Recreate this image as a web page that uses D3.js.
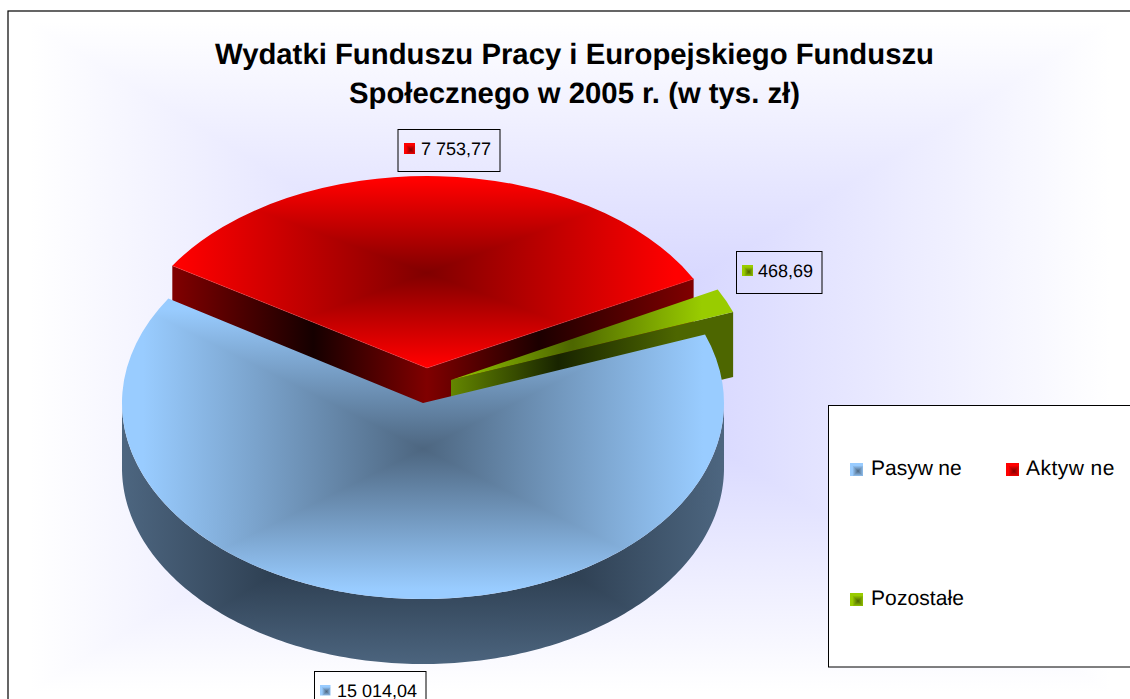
<!DOCTYPE html>
<html><head><meta charset="utf-8">
<script src="https://cdn.jsdelivr.net/npm/d3@7"></script>
<style>html,body{margin:0;padding:0;background:#fff;overflow:hidden}svg{display:block}text{font-family:"Liberation Sans",Arial,sans-serif;fill:#000;text-rendering:geometricPrecision}</style>
</head><body><svg id="c" width="1130" height="699"></svg>
<script>
const categories = ["Pasywne", "Aktywne", "Pozostałe"];
const values = [15014.04, 7753.77, 468.69];
const valueLabels = ["15 014,04", "7 753,77", "468,69"];
const titleLines = ["Wydatki Funduszu Pracy i Europejskiego Funduszu", "Społecznego w 2005 r. (w tys. zł)"];
const edgeColors = ["#99ccff", "#ff0000", "#99cc00"];
const coreColors = ["#4d6680", "#800000", "#4d6600"];

const svg = d3.select("#c");
const defs = svg.append("defs");
const rad = d => d * Math.PI / 180;
let uid = 0;

// rectangular ("from centre") gradient: two linear ramps combined with lighten
function rectFill(parent, clipD, clipTransform, b, core, edge, sharp) {
  const id = "g" + (++uid);
  const clip = defs.append("clipPath").attr("id", id + "c");
  clip.append("path").attr("d", clipD).attr("transform", clipTransform || null);
  const stops = sharp ? [[.15, edge], [.5, core], [.85, edge]] : [[0, edge], [.5, core], [1, edge]];
  const ramp = (name, attrs) => {
    const g = defs.append("linearGradient").attr("id", id + name).attr("gradientUnits", "userSpaceOnUse");
    Object.entries(attrs).forEach(([k, v]) => g.attr(k, v));
    g.selectAll("stop").data(stops).enter().append("stop")
      .attr("offset", d => d[0]).attr("stop-color", d => d[1]);
  };
  ramp("h", {x1: b.cx - b.hw, x2: b.cx + b.hw, y1: 0, y2: 0});
  ramp("v", {x1: 0, x2: 0, y1: b.cy - b.hh, y2: b.cy + b.hh});
  const g = parent.append("g").attr("clip-path", `url(#${id}c)`).style("isolation", "isolate");
  const m = 80;
  const rect = name => g.append("rect").attr("x", b.cx - b.hw - m).attr("y", b.cy - b.hh - m)
    .attr("width", 2 * b.hw + 2 * m).attr("height", 2 * b.hh + 2 * m).attr("fill", `url(#${id}${name})`);
  rect("h");
  rect("v").style("mix-blend-mode", "lighten");
  return g;
}
function hGrad(x1, x2, stops) {
  const id = "g" + (++uid);
  const g = defs.append("linearGradient").attr("id", id).attr("gradientUnits", "userSpaceOnUse")
    .attr("x1", x1).attr("x2", x2).attr("y1", 0).attr("y2", 0);
  g.selectAll("stop").data(stops).enter().append("stop")
    .attr("offset", d => d[0]).attr("stop-color", d => d[1]);
  return `url(#${id})`;
}

// chart area background
const W = 1130, H = 699;
svg.append("rect").attr("width", W).attr("height", H).attr("fill", "#fff");
rectFill(svg, "M8 11H1200V720H8Z", null, {cx: 570, cy: 357, hw: 540, hh: 335}, "#ccccff", "#ffffff");

// pie geometry
const pie = d3.pie().sort(null).startAngle(rad(69.6)).endAngle(rad(69.6 + 360));
const arcs = pie(values);
const arcGen = d3.arc().innerRadius(0).outerRadius(1);
const geo = [
  {cx: 423, cy: 403, rx: 301, ry: 196},
  {cx: 427, cy: 368, rx: 301, ry: 192},
  {cx: 451, cy: 380, rx: 301, ry: 195}
];
const depth = 65;
const pt = (g, a) => [g.cx + g.rx * Math.sin(a), g.cy - g.ry * Math.cos(a)];
const topT = g => `translate(${g.cx},${g.cy}) scale(${g.rx},${g.ry})`;
const poly = d3.line();
const quad = (g, a) => {
  const p = pt(g, a), c = [g.cx, g.cy];
  return poly([c, p, [p[0], p[1] + depth], [c[0], c[1] + depth]]) + "Z";
};
const layer = svg.append("g");

// red slice: walls then top
const [blueA, redA, greenA] = arcs;
layer.append("path").attr("d", quad(geo[1], redA.startAngle))
  .attr("fill", hGrad(174, 427, [[0, "#800000"], [.55, "#150000"], [1, "#800000"]]));
layer.append("path").attr("d", quad(geo[1], redA.endAngle))
  .attr("fill", hGrad(427, 693, [[0, "#800000"], [.42, "#1c0000"], [1, "#800000"]]));
rectFill(layer, arcGen(redA), topT(geo[1]), {cx: 427, cy: 273, hw: 248, hh: 92}, coreColors[1], edgeColors[1]);
layer.append("path").attr("d", poly([pt(geo[1], redA.startAngle), [geo[1].cx, geo[1].cy], pt(geo[1], redA.endAngle)]))
  .attr("fill", "none").attr("stroke", "#ff5050").attr("stroke-width", .6).attr("opacity", .6);

// green slice
layer.append("path").attr("d", quad(geo[2], greenA.endAngle))
  .attr("fill", hGrad(451, 733, [[0, "#648600"], [.38, "#182400"], [.8, "#4d6600"], [1, "#4d6600"]]));
rectFill(layer, arcGen(greenA), topT(geo[2]), {cx: 572, cy: 335, hw: 130, hh: 900}, coreColors[2], edgeColors[2]);

// blue slice: outer wall then top
const wallAngles = d3.range(90, 270.01, 1).map(rad);
const wallPts = wallAngles.map(a => pt(geo[0], a));
const wallD = poly(wallPts.concat(wallPts.slice().reverse().map(p => [p[0], p[1] + depth]))) + "Z";
rectFill(layer, wallD, null, {cx: 423, cy: 482, hw: 301, hh: 186}, "#101a26", "#4d6680");
rectFill(layer, arcGen(blueA), topT(geo[0]), {cx: 423, cy: 449, hw: 280, hh: 140}, coreColors[0], edgeColors[0]);

// marker swatch
function swatch(x, y, s, i) {
  rectFill(svg, `M${x} ${y}h${s}v${s}h${-s}Z`, null, {cx: x + s * .62, cy: y + s * .62, hw: s * .62, hh: s * .62}, coreColors[i], edgeColors[i], true);
}

// outer frame
svg.append("rect").attr("x", 8).attr("y", 11).attr("width", 1300).attr("height", 900)
  .attr("fill", "none").attr("stroke", "#000").attr("stroke-width", 1.2);

// title
svg.selectAll("text.t").data(titleLines).enter().append("text").attr("class", "t")
  .attr("x", 574.5).attr("y", (d, i) => 64 + i * 39)
  .attr("text-anchor", "middle").attr("font-size", 29.3).attr("font-weight", "bold").text(d => d);

// data labels
const labelBoxes = [
  {i: 1, x: 398, y: 129.5, w: 102, h: 42, mx: 404, my: 143, tx: 421, ty: 154.5, ms: 11},
  {i: 2, x: 736.5, y: 251.5, w: 85.5, h: 42, mx: 742, my: 265, tx: 758, ty: 276.5, ms: 11},
  {i: 0, x: 314.5, y: 671.5, w: 111.5, h: 60, mx: 320, my: 685, tx: 337, ty: 696.5, ms: 10.5}
];
labelBoxes.forEach(b => {
  svg.append("rect").attr("x", b.x).attr("y", b.y).attr("width", b.w).attr("height", b.h)
    .attr("fill", "none").attr("stroke", "#000").attr("stroke-width", 1);
  swatch(b.mx, b.my, b.ms, b.i);
  svg.append("text").attr("x", b.tx).attr("y", b.ty).attr("font-size", 18).text(valueLabels[b.i]);
});

// legend
svg.append("rect").attr("x", 828.5).attr("y", 405.5).attr("width", 400).attr("height", 261.5)
  .attr("fill", "#fff").attr("stroke", "#000").attr("stroke-width", 1);
const legendPos = [
  {mx: 850, my: 463, tx: 871, ty: 475, gap: 5.5, split: 5, ls: 0},
  {mx: 1006, my: 463, tx: 1026, ty: 475, gap: 6, split: 5, ls: 0.5},
  {mx: 850, my: 593, tx: 871, ty: 605, gap: 0, split: 9, ls: 0.1}
];
legendPos.forEach((p, i) => {
  swatch(p.mx, p.my, 13, i);
  const t = svg.append("text").attr("x", p.tx).attr("y", p.ty).attr("font-size", 21).style("letter-spacing", p.ls + "px");
  t.append("tspan").text(categories[i].slice(0, p.split));
  if (p.split < categories[i].length) t.append("tspan").attr("dx", p.gap).text(categories[i].slice(p.split));
});
</script></body></html>
